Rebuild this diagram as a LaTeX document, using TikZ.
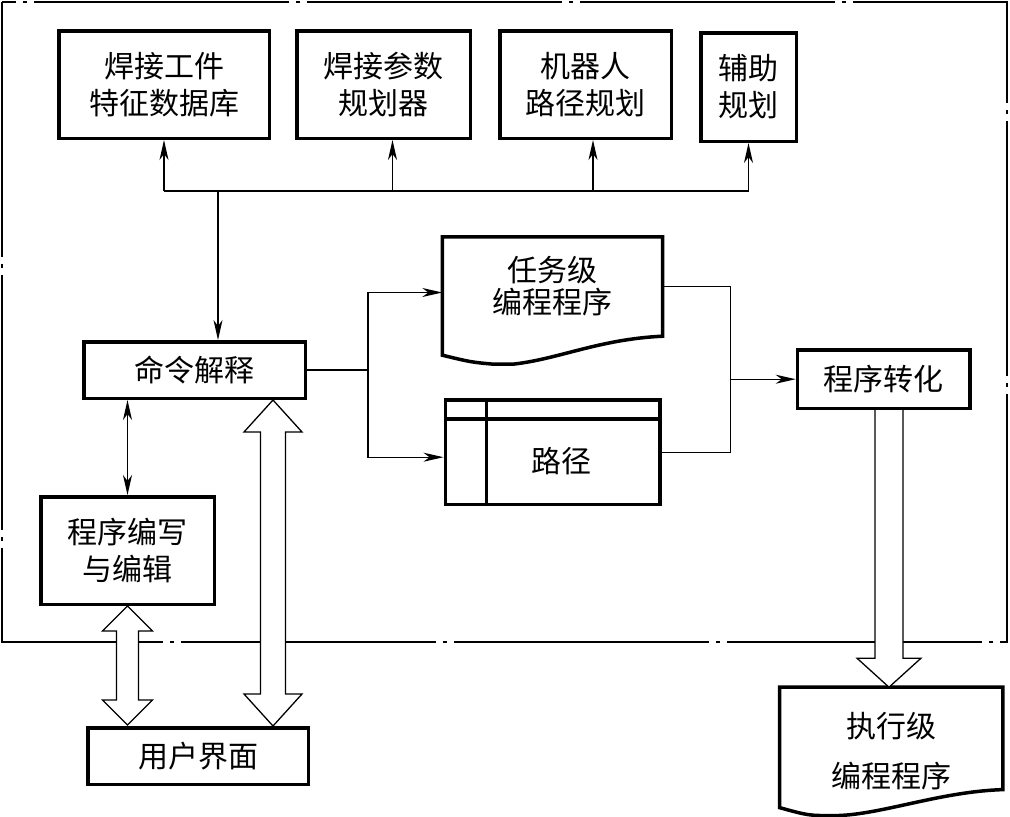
\documentclass[tikz,border=0pt]{standalone}
\usepackage{fontspec}
\newfontfamily\cjk{Noto Sans CJK SC}
\usepackage{tikz}
\usetikzlibrary{arrows.meta,positioning,calc}
\tikzstyle{block} = [rectangle, draw, line width=3.5pt, inner sep=0pt, align=center, font=\cjk\fontsize{30}{37}\selectfont]
\tikzstyle{doc} = [rectangle, inner sep=0pt, align=center, font=\cjk\fontsize{30}{32}\selectfont]
\tikzstyle{txt} = [inner sep=0pt, font=\cjk\fontsize{30}{37}\selectfont]
\tikzstyle{outline} = [draw, line width=3.5pt, line join=miter]
\tikzstyle{frame} = [draw, line width=2.6pt, dash pattern=on 255pt off 7pt on 4pt off 7pt]
\tikzstyle{hollow} = [draw, line width=1.3pt, line join=miter, fill=white]
\tikzstyle{tline} = [draw, line width=1.3pt]
\tikzstyle{tedge} = [draw, line width=1.3pt, >={Stealth[length=20pt,width=9pt,inset=6pt]}, ->]

\begin{document}
\begin{tikzpicture}[x=1pt, y=-1pt]
\useasboundingbox (0,0) rectangle (1010,817);

% frame ==================================
\draw[frame] (2,2) rectangle (1007,642);

% planners
\node[block, minimum width=210.5pt, minimum height=107.5pt] (db) at (164,84.5) {焊接工件\\特征数据库};
\node[block, right=24pt of db, minimum width=173.5pt, minimum height=107.5pt] (para) {焊接参数\\规划器};
\node[block, right=26pt of para, minimum width=171.5pt, minimum height=107.5pt] (robot) {机器人\\路径规划};
\node[block, right=26pt of robot, yshift=-2.5pt, minimum width=95.5pt, minimum height=108.5pt] (aux) {辅助\\规划};

% command and editing
\node[block, below=200pt of db, xshift=30.5pt, minimum width=221.5pt, minimum height=56.5pt] (cmd) {命令解释};
\node[block, below=95pt of cmd, xshift=-67pt, minimum width=173.5pt, minimum height=107.5pt] (edit) {程序编写\\与编辑};
\node[block, below=120pt of edit, xshift=70.5pt, minimum width=220.5pt, minimum height=56.5pt] (ui) {用户界面};

% programs
\node[doc, minimum width=220pt, minimum height=99pt] (task) at (552.5,286.5) {任务级\\编程程序};
\node[block, below=62pt of task, minimum width=214.5pt, minimum height=104.5pt] (path) {};
\node[txt] (pathlbl) at ($(path.center)+(9,9)$) {路径};
\node[block, below right=12pt and 133pt of task, minimum width=172.5pt, minimum height=58.5pt] (conv) {程序转化};
\node[doc, below=277pt of conv, xshift=7.5pt, minimum width=223pt, minimum height=128pt, font=\cjk\fontsize{30}{37}\selectfont] (exec) {执行级\\[13pt]编程程序};

% outlines
\draw[outline] (task.north west) -- (task.north east) -- (task.south east)
  .. controls ($(task.south east)+(-64,3)$) and ($(task.south east)+(-104,23)$) .. ($(task.south east)+(-150,28)$)
  -- ($(task.south east)+(-169,28)$) .. controls ($(task.south west)+(29,26)$) .. ($(task.south west)+(0,19)$) -- cycle;
\draw[outline] (exec.north west) -- (exec.north east) -- ($(exec.south east)+(0,-26)$)
  .. controls ($(exec.south east)+(-64,-24)$) and ($(exec.south east)+(-124,0)$) .. ($(exec.south east)+(-169,0)$)
  .. controls ($(exec.south west)+(29,0)$) .. ($(exec.south west)+(0,-8)$) -- cycle;
\draw[outline] ([yshift=-21pt]path.north west) -- ([yshift=-21pt]path.north east);
\draw[outline] ([xshift=43pt]path.north west) -- ([xshift=43pt]path.south west);

% hollow arrows
\draw[hollow] (edit.south) -- ++(25,25) -- ++(-14,0) -- ++(0,69) -- ++(14,0) -- ++(-25,25)
  -- ++(-25,-25) -- ++(14,0) -- ++(0,-69) -- ++(-14,0) -- cycle;
\draw[hollow] (273,0 |- cmd.south) -- ++(29,32) -- ++(-16.5,0) -- ++(0,262) -- ++(16.5,0) -- ++(-29,32)
  -- ++(-29,-32) -- ++(16.5,0) -- ++(0,-262) -- ++(-16.5,0) -- cycle;
\draw[hollow] (875,0 |- conv.south) -- ++(0,248) -- ++(-18,0) -- ++(32,29) -- ++(32,-29) -- ++(-18,0) -- ++(0,-248);

% edges
\coordinate[below=51pt of db.south] (bus);
\path[tline] (bus) -- (bus -| aux.south);
\path[tedge] (bus) -- (db.south);
\path[tedge] ([xshift=9pt]para.south |- bus) -- ([xshift=9pt]para.south);
\path[tedge] ([xshift=7.5pt]robot.south |- bus) -- ([xshift=7.5pt]robot.south);
\path[tedge] (bus -| aux.south) -- (aux.south);
\path[tedge] ([xshift=23.5pt]cmd.north |- bus) -- ([xshift=23.5pt]cmd.north);

\path[tedge, <->] (edit.north |- cmd.south) -- (edit.north);

\coordinate[right=61pt of cmd.east] (fork);
\path[tline] (cmd.east) -- (fork);
\path[tedge] (fork) |- ([yshift=-6pt]task.west);
\path[tedge] (fork) |- ([yshift=-5pt]path.west);

\coordinate[left=65pt of conv.west] (merge);
\path[tline] (task.east) -| (merge) |- (path.east);
\path[tedge] (merge) -- (conv.west);

\end{tikzpicture}
\end{document}
